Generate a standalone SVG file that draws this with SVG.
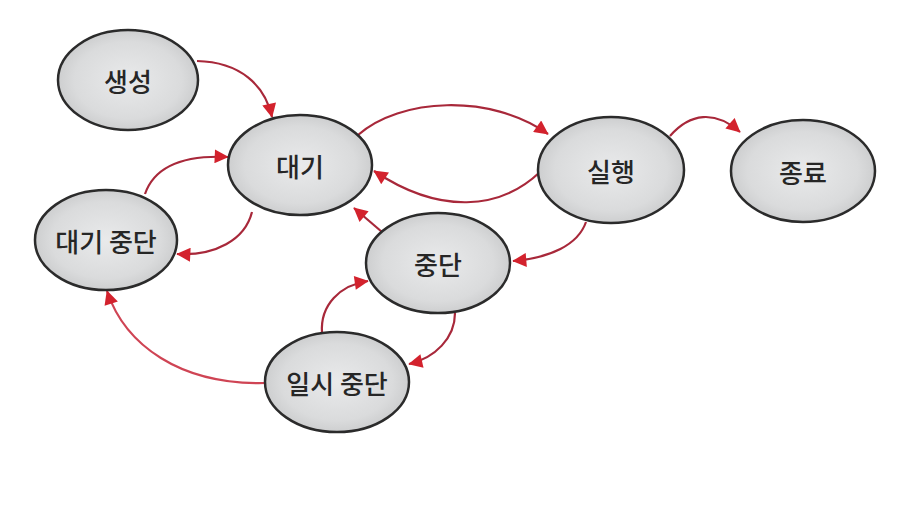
<svg xmlns="http://www.w3.org/2000/svg" width="913" height="514" viewBox="0 0 913 514">
<defs>
<radialGradient id="g" cx="50%" cy="50%" r="55%">
<stop offset="0" stop-color="#e9eaeb"/>
<stop offset="0.7" stop-color="#dadbdc"/>
<stop offset="1" stop-color="#c8c9ca"/>
</radialGradient>
<marker id="ah" viewBox="0 0 10 10" refX="9.5" refY="5" markerWidth="16" markerHeight="14" markerUnits="userSpaceOnUse" orient="auto">
<path d="M0,0 L10,5 L0,10 z" fill="#d3222d"/>
</marker>
<style>
.n ellipse{fill:url(#g);stroke:#2b2b2b;stroke-width:2.5}
.n text{font-family:"Noto Sans CJK KR","Noto Sans",sans-serif;font-size:26px;font-weight:500;fill:#262626;text-anchor:middle;dominant-baseline:central}
.e path{fill:none;stroke:#a8283a;stroke-width:2.2;marker-end:url(#ah)}
</style>
</defs>
<rect width="913" height="514" fill="#ffffff"/>
<g class="e" id="connectors">
<path d="M197,61 C240,62 265,85 272,117"/>
<path d="M358,135 C400,98 490,93 548,134"/>
<path d="M540,172 C500,210 440,215 374,171"/>
<path d="M670,136 C690,113 715,110 740,132"/>
<path d="M586,222 C578,245 550,258 513,261"/>
<path d="M382,232 L354,208"/>
<path d="M145,194 C155,165 185,155 228,157"/>
<path d="M252,212 C245,240 215,256 177,254"/>
<path d="M322,333 C320,305 340,285 368,281"/>
<path d="M455,313 C455,338 435,358 409,364"/>
<path d="M265,383 C180,385 125,345 107,291" style="stroke:#cf4454"/>
</g>
<g class="n" id="n-create"><ellipse cx="128" cy="80" rx="70" ry="50"/><text x="128" y="80">생성</text></g>
<g class="n" id="n-wait"><ellipse cx="300" cy="165" rx="72" ry="50"/><text x="300" y="165">대기</text></g>
<g class="n" id="n-run"><ellipse cx="611" cy="170" rx="73" ry="53"/><text x="611" y="170">실행</text></g>
<g class="n" id="n-end"><ellipse cx="803" cy="171" rx="72" ry="51"/><text x="803" y="171">종료</text></g>
<g class="n" id="n-waitstop"><ellipse cx="106" cy="240" rx="71" ry="50"/><text x="106" y="240">대기 중단</text></g>
<g class="n" id="n-stop"><ellipse cx="438" cy="263" rx="72" ry="50"/><text x="438" y="263">중단</text></g>
<g class="n" id="n-pause"><ellipse cx="337" cy="382" rx="72" ry="50"/><text x="337" y="382">일시 중단</text></g>
</svg>
